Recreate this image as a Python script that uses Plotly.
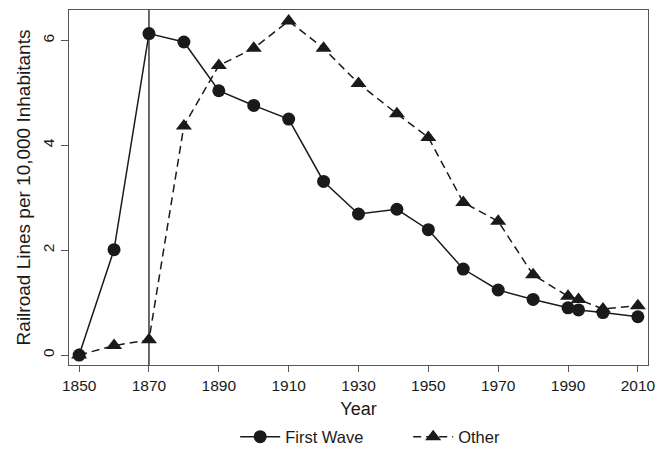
import plotly.graph_objects as go

years = [1850, 1860, 1870, 1880, 1890, 1900, 1910, 1920, 1930, 1941, 1950, 1960, 1970, 1980, 1990, 1993, 2000, 2010]
first_wave = [0.0, 2.01, 6.13, 5.97, 5.04, 4.76, 4.50, 3.31, 2.69, 2.78, 2.39, 1.64, 1.24, 1.06, 0.90, 0.86, 0.81, 0.73]
other = [0.0, 0.18, 0.29, 4.37, 5.52, 5.85, 6.37, 5.85, 5.18, 4.60, 4.15, 2.91, 2.55, 1.53, 1.12, 1.06, 0.88, 0.94]
x_ticks = [1850, 1870, 1890, 1910, 1930, 1950, 1970, 1990, 2010]
y_ticks = [0, 2, 4, 6]
event_year = 1870

ink = "#1a1a1a"
fig = go.Figure()
fig.add_trace(go.Scatter(x=years, y=first_wave, name="First Wave", mode="lines+markers",
                         line=dict(color=ink, width=1.5),
                         marker=dict(symbol="circle", size=13, color=ink)))
fig.add_trace(go.Scatter(x=years, y=other, name="Other", mode="lines+markers",
                         line=dict(color=ink, width=1.5, dash="8px,5px"),
                         marker=dict(symbol="triangle-up", size=14, color=ink)))
fig.add_vline(x=event_year, line=dict(color=ink, width=1.3))

font = "Liberation Sans, Arial, sans-serif"
fig.update_layout(
    width=667, height=450,
    margin=dict(l=69, r=19, t=9.5, b=85),
    paper_bgcolor="white", plot_bgcolor="white",
    font=dict(family=font, color=ink, size=16),
    showlegend=True,
    legend=dict(orientation="h", x=0.287, xanchor="left", yref="container", y=0.029, yanchor="middle",
                font=dict(size=16.5), entrywidth=118, itemwidth=40),
)
fig.update_xaxes(range=[1847.1, 2012.9], tickvals=x_ticks, ticks="outside", ticklen=6,
                 tickcolor="#555", showgrid=False, zeroline=False, showline=True,
                 linecolor="#555", linewidth=1.2, mirror=True, automargin=False,
                 title=dict(text="Year", font=dict(size=18), standoff=9),
                 tickfont=dict(size=15.5))
fig.update_yaxes(range=[-0.19, 6.58], tickvals=y_ticks, ticks="outside", ticklen=7,
                 ticklabelstandoff=1,
                 tickcolor="#555", showgrid=False, zeroline=False, showline=True,
                 linecolor="#555", linewidth=1.2, mirror=True, tickangle=-90, automargin=False,
                 title=dict(text="Railroad Lines per 10,000 Inhabitants", font=dict(size=19), standoff=4),
                 tickfont=dict(size=15.5))
fig.write_html("out.html", config={"displayModeBar": False},
               post_script="document.body.style.margin='0';document.body.style.padding='0';")
